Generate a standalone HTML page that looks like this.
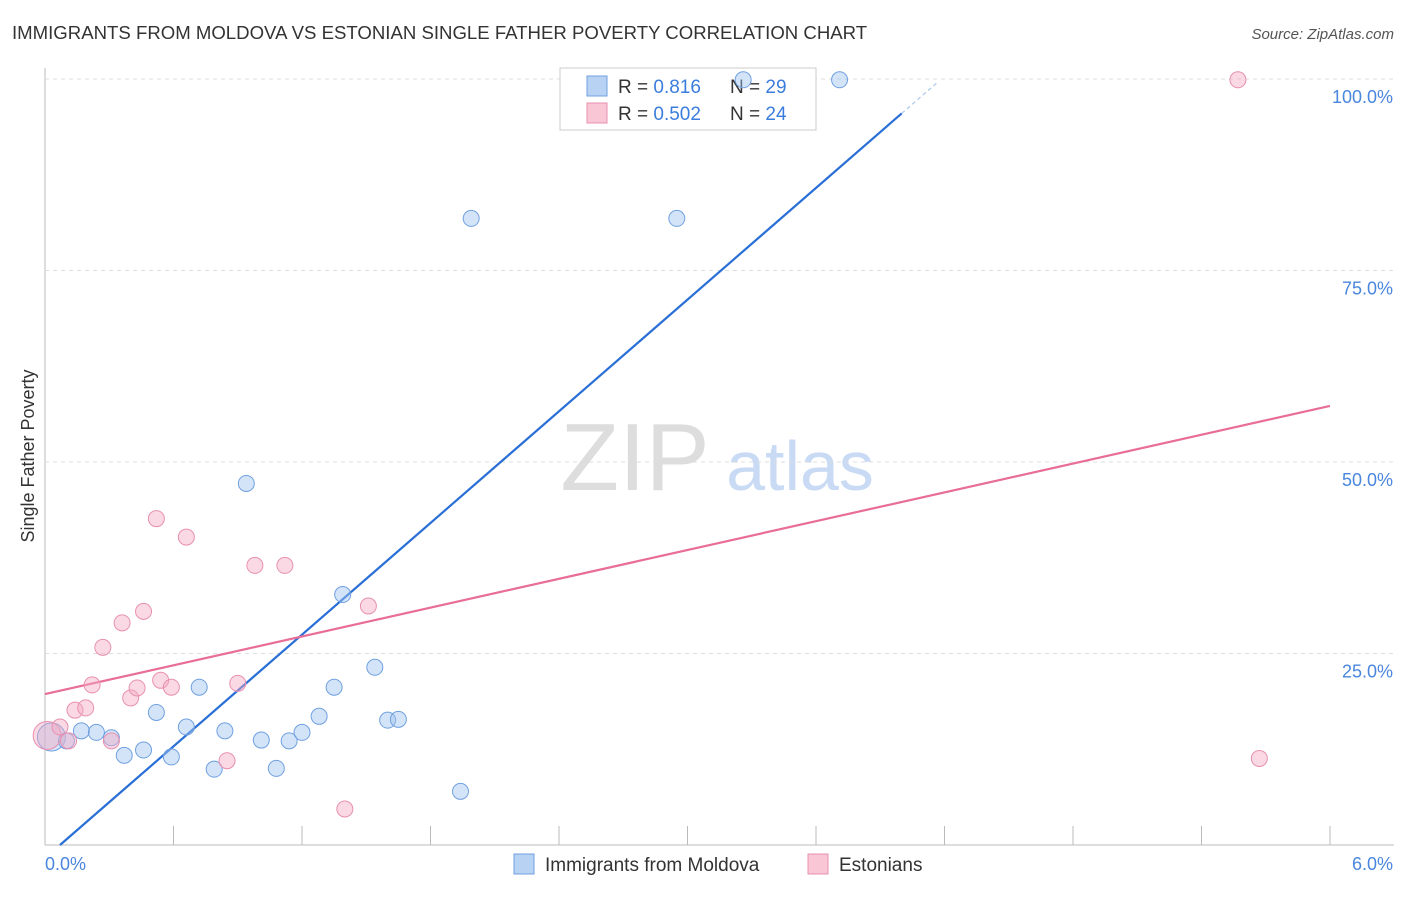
<!DOCTYPE html>
<html><head><meta charset="utf-8"><style>
body{margin:0;background:#fff;font-family:"Liberation Sans",sans-serif;}
svg text{font-family:"Liberation Sans",sans-serif;}
</style></head><body>
<svg id="c" width="1406" height="892" xmlns="http://www.w3.org/2000/svg">
<text x="12" y="39" font-size="18.6" fill="#333">IMMIGRANTS FROM MOLDOVA VS ESTONIAN SINGLE FATHER POVERTY CORRELATION CHART</text>
<text x="1394" y="39" font-size="15" fill="#555" font-style="italic" text-anchor="end">Source: ZipAtlas.com</text>
<text x="34" y="456" font-size="18" fill="#333" text-anchor="middle" transform="rotate(-90 34 456)">Single Father Poverty</text>
<g>
<text x="635" y="490" font-size="96" font-family="Liberation Serif,serif" fill="#ddd" text-anchor="middle">ZIP</text>
<text x="800" y="490" font-size="70" fill="#c8daf4" text-anchor="middle">atlas</text>
</g>
<g id="grid"></g><g id="lines"></g>
<g>
<rect x="560" y="68" width="256" height="62" fill="#fff" stroke="#ccc"/>
<rect x="587" y="76" width="20" height="20" fill="#b8d2f4" stroke="#6fa0e0"/>
<rect x="587" y="103" width="20" height="20" fill="#f9c6d6" stroke="#e890b0"/>
<text x="618" y="93" font-size="19" fill="#333">R =  <tspan fill="#3b7ddd">0.816</tspan></text>
<text x="730" y="93" font-size="19" fill="#333">N = <tspan fill="#3b7ddd">29</tspan></text>
<text x="618" y="120" font-size="19" fill="#333">R = <tspan fill="#3b7ddd">0.502</tspan></text>
<text x="730" y="120" font-size="19" fill="#333">N = <tspan fill="#3b7ddd">24</tspan></text>
</g>
<g id="pts"></g>
<g>
<rect x="514" y="854" width="20" height="20" fill="#b8d2f4" stroke="#6fa0e0"/>
<text x="545" y="871" font-size="19" fill="#333">Immigrants from Moldova</text>
<rect x="808" y="854" width="20" height="20" fill="#f9c6d6" stroke="#e890b0"/>
<text x="839" y="871" font-size="19" fill="#333">Estonians</text>
</g>
</svg>
<script>
const blueX=[0.03,0.10,0.17,0.24,0.31,0.37,0.46,0.52,0.59,0.66,0.72,0.79,0.84,0.94,1.01,1.08,1.14,1.20,1.28,1.35,1.39,1.54,1.60,1.65,1.94,1.99,2.95,3.26,3.71];
const blueY=[14.1,13.6,14.9,14.7,14.0,11.7,12.4,17.3,11.5,15.4,20.6,9.9,14.9,47.2,13.7,10.0,13.6,14.7,16.8,20.6,32.7,23.2,16.3,16.4,7.0,81.8,81.8,99.9,99.9];
const pinkX=[0.01,0.07,0.11,0.14,0.19,0.22,0.27,0.31,0.36,0.40,0.43,0.46,0.52,0.54,0.59,0.66,0.85,0.90,0.98,1.12,1.40,1.51,5.57,5.67];
const pinkY=[14.3,15.4,13.6,17.6,17.9,20.9,25.8,13.6,29.0,19.2,20.5,30.5,42.6,21.5,20.6,40.2,11.0,21.1,36.5,36.5,4.7,31.2,99.9,11.3];
const blueLine=[-1.7,24.3];
const pinkLine=[19.7,6.27];
const yTicks=[25,50,75,100];
const xTickLabels=["0.0%","6.0%"];
const X=v=>45+v/6*1285, Y=v=>845-v*7.66;
const NS="http://www.w3.org/2000/svg";
function mk(p,t,a){const e=document.createElementNS(NS,t);for(const k in a)e.setAttribute(k,a[k]);p.appendChild(e);return e;}
const g=document.getElementById('grid');
let ax=mk(g,'line',{x1:45,y1:68,x2:45,y2:845,stroke:'#bbb'});


let bx=mk(g,'line',{x1:45,y1:845,x2:1394,y2:845,stroke:'#bbb'});


yTicks.forEach(t=>{
 const l=mk(g,'line',{x1:45,x2:1394,y1:Y(t),y2:Y(t),stroke:'#ddd','stroke-dasharray':'4 4'});
 
 
 const tx=mk(g,'text',{x:1393,y:Y(t)+24,'font-size':18,fill:'#4a86dd','text-anchor':'end'});tx.textContent=t.toFixed(1)+'%';
 
 
});
for(let i=0;i<=10;i++){const x=X(i*0.6);const l=mk(g,'line',{x1:x,x2:x,y1:826,y2:845,stroke:'#bbb'});
 
 }
[[0,45,'start'],[6,1393,'end']].forEach((d,i)=>{const t=mk(g,'text',{x:d[1],y:870,'font-size':18,fill:'#4a86dd','text-anchor':d[2]});t.textContent=xTickLabels[i];
 
 });
const L=document.getElementById('lines');
const bxEnd=(95.5-blueLine[0])/blueLine[1];
let bl=mk(L,'line',{x1:X(-blueLine[0]/blueLine[1]),y1:Y(0),x2:X(bxEnd),y2:Y(blueLine[0]+blueLine[1]*bxEnd),stroke:'#2a6fd6','stroke-width':2.2});


const bx2=(99.5-blueLine[0])/blueLine[1];
let bd=mk(L,'line',{x1:X(bxEnd),y1:Y(blueLine[0]+blueLine[1]*bxEnd),x2:X(bx2),y2:Y(blueLine[0]+blueLine[1]*bx2),stroke:'#aac6ee','stroke-width':1.2,'stroke-dasharray':'4 3'});


let pl=mk(L,'line',{x1:X(0),y1:Y(pinkLine[0]),x2:X(6),y2:Y(pinkLine[0]+pinkLine[1]*6),stroke:'#e86d98','stroke-width':2.2});


const P=document.getElementById('pts');
blueX.forEach((x,i)=>{const c=mk(P,'circle',{cx:X(x),cy:Y(blueY[i]),r:i==0?14:8,fill:'rgba(160,196,240,0.45)',stroke:'#6fa0e0','stroke-width':1});
 
 });
pinkX.forEach((x,i)=>{const c=mk(P,'circle',{cx:X(x),cy:Y(pinkY[i]),r:i==0?14:8,fill:'rgba(245,170,195,0.45)',stroke:'#e890b0','stroke-width':1});
 
 });
</script>
</body></html>
